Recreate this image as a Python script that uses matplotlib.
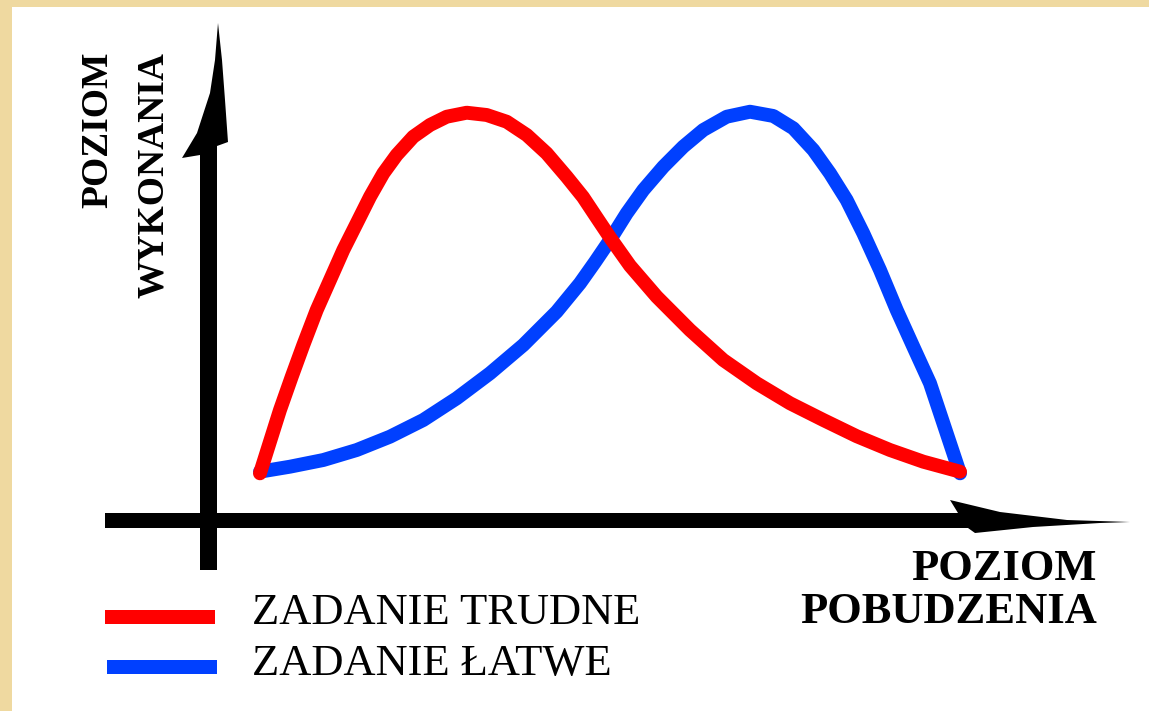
import matplotlib
matplotlib.use("Agg")
import matplotlib.pyplot as plt
from matplotlib.patches import Polygon, Rectangle

# Yerkes-Dodson style curves: arousal (x) vs performance (y), both 0..100
hard_x = [5.77, 7.95, 9.23, 10.49, 11.95, 13.40, 14.85, 16.31, 17.76, 19.21,
          20.66, 22.47, 24.29, 26.11, 28.29, 30.47, 32.65, 34.83, 37.00, 39.18,
          40.96, 42.59, 43.90, 46.08, 48.99, 52.61, 56.24, 59.88, 63.51, 67.14,
          70.77, 74.40, 78.03, 82.03]
hard_y = [9.43, 22.22, 28.95, 35.35, 42.42, 48.48, 54.55, 59.94, 65.31, 70.04,
          73.74, 77.43, 79.80, 81.47, 82.28, 81.82, 80.46, 77.78, 74.08, 69.35,
          65.25, 60.70, 57.07, 51.37, 45.11, 38.38, 32.32, 27.62, 23.58, 20.20,
          16.93, 14.14, 11.78, 9.76]

easy_x = [5.77, 9.04, 12.67, 16.31, 19.93, 23.56, 27.20, 30.83, 34.46, 38.09, 40.63,
          42.27, 43.90, 45.72, 47.53, 49.71, 51.88, 54.06, 56.61, 59.15, 61.69,
          63.87, 66.05, 67.86, 69.68, 71.49, 73.31, 75.13, 76.94, 78.76, 82.03]
easy_y = [9.76, 10.77, 12.12, 14.14, 16.83, 20.20, 24.59, 29.64, 35.35, 42.08, 47.82,
          52.12, 56.57, 61.96, 66.67, 71.37, 75.41, 78.79, 81.47, 82.48, 81.62,
          79.13, 74.75, 70.04, 64.65, 57.92, 50.51, 42.42, 35.01, 27.62, 9.43]

series_labels = ["ZADANIE TRUDNE", "ZADANIE ŁATWE"]
y_label = ["POZIOM", "WYKONANIA"]
x_label = ["POZIOM", "POBUDZENIA"]

RED = "#FF0000"
BLUE = "#0040FF"
PARCH = "#EFD9A0"
W, H = 1149, 711

fig = plt.figure(figsize=(W / 100, H / 100), dpi=100)
fig.patch.set_facecolor("white")

# overlay in pixel units for the decorations
deco = fig.add_axes([0, 0, 1, 1])
deco.set_xlim(0, W)
deco.set_ylim(H, 0)
deco.axis("off")

# parchment border strips
deco.add_patch(Rectangle((0, 0), W, 7, color=PARCH, lw=0))
deco.add_patch(Rectangle((0, 0), 12, H, color=PARCH, lw=0))

# vertical axis with swoosh arrowhead
v_arrow = [(218, 23), (222, 60), (225, 100), (228, 142), (217, 146), (217, 570),
           (200, 570), (200, 155), (182, 158), (197, 133), (210, 93), (215, 60)]
deco.add_patch(Polygon(v_arrow, closed=True, color="black", lw=0))

# horizontal axis with swoosh arrowhead
h_arrow = [(105, 513), (958, 513), (950, 500), (1000, 512), (1067, 520), (1130, 522),
           (1100, 523), (1033, 527), (975, 533), (968, 528), (105, 528)]
deco.add_patch(Polygon(h_arrow, closed=True, color="black", lw=0))

serif = "Liberation Serif"

# rotated y label
deco.text(107, 52, y_label[0], rotation=90, rotation_mode="anchor", ha="right",
          va="baseline", fontsize=27, fontweight="bold", family=serif)
deco.text(163, 52, y_label[1], rotation=90, rotation_mode="anchor", ha="right",
          va="baseline", fontsize=27, fontweight="bold", family=serif)

# x label, right aligned
deco.text(1097, 580, x_label[0], ha="right", va="baseline", fontsize=32,
          fontweight="bold", family=serif)
deco.text(1097, 623, x_label[1], ha="right", va="baseline", fontsize=32,
          fontweight="bold", family=serif)

# legend
deco.add_patch(Rectangle((105, 610), 110, 14, color=RED, lw=0))
deco.add_patch(Rectangle((107, 660), 110, 14, color=BLUE, lw=0))
deco.text(252, 624, series_labels[0], ha="left", va="baseline", fontsize=32, family=serif)
deco.text(252, 675, series_labels[1], ha="left", va="baseline", fontsize=32, family=serif)

# data axes: origin at the crossing of the arrows
ax = fig.add_axes([207 / W, (H - 520) / H, 918 / W, 495 / H])
ax.set_xlim(0, 100)
ax.set_ylim(0, 100)
ax.axis("off")
ax.plot(easy_x, easy_y, color=BLUE, lw=10, solid_capstyle="round",
        solid_joinstyle="round", clip_on=False)
ax.plot(hard_x, hard_y, color=RED, lw=10, solid_capstyle="round",
        solid_joinstyle="round", clip_on=False)

fig.savefig("out.png", dpi=100, facecolor="white")
